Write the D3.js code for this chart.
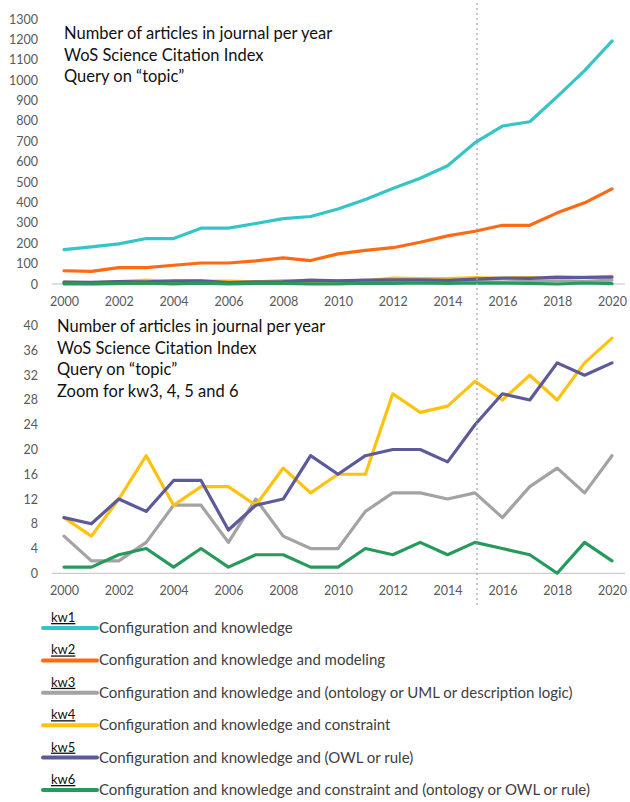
<!DOCTYPE html>
<html>
<head>
<meta charset="utf-8">
<script src="https://cdn.jsdelivr.net/npm/d3@7"></script>
<style>
  body { margin: 0; background: #fff; }
  svg { display: block; font-family: Lato, "Open Sans", sans-serif; }
</style>
</head>
<body>
<div id="chart"></div>
<script>
// Años
const years = d3.range(2000, 2021)

// Series (lectura aproximada del gráfico)
const kw1 = [169, 182, 197, 223, 223, 274, 274, 297, 321, 331, 368, 415, 468, 519, 580, 693, 775, 796, 919, 1047, 1192]
const kw2 = [65, 62, 80, 80, 92, 103, 103, 113, 128, 115, 148, 165, 178, 205, 236, 259, 288, 288, 349, 398, 467]
const kw3 = [6, 2, 2, 5, 11, 11, 5, 12, 6, 4, 4, 10, 13, 13, 12, 13, 9, 14, 17, 13, 19]
const kw4 = [9, 6, 12, 19, 11, 14, 14, 11, 17, 13, 16, 16, 29, 26, 27, 31, 28, 32, 28, 34, 38]
const kw5 = [9, 8, 12, 10, 15, 15, 7, 11, 12, 19, 16, 19, 20, 20, 18, 24, 29, 28, 34, 32, 34]
const kw6 = [1, 1, 3, 4, 1, 4, 1, 3, 3, 1, 1, 4, 3, 5, 3, 5, 4, 3, 0, 5, 2]

const seriesNames = ["kw1", "kw2", "kw3", "kw4", "kw5", "kw6"]
const seriesLabels = [
  "Configuration and knowledge",
  "Configuration and knowledge and modeling",
  "Configuration and knowledge and (ontology or UML or description logic)",
  "Configuration and knowledge and constraint",
  "Configuration and knowledge and (OWL or rule)",
  "Configuration and knowledge and constraint and (ontology or OWL or rule)"
]
const seriesColors = ["#35c5c6", "#ff6a13", "#a3a3a3", "#ffc20e", "#5c5a98", "#279a5b"]
const seriesValues = [kw1, kw2, kw3, kw4, kw5, kw6]

const topTicks = d3.range(0, 1301, 100)
const bottomTicks = d3.range(0, 41, 4)
const xTicks = d3.range(2000, 2021, 2)
const markerYear = 2015

const topTitle = ["Number of articles in journal per year", "WoS Science Citation Index", "Query on \u201ctopic\u201d"]
const bottomTitle = ["Number of articles in journal per year", "WoS Science Citation Index", "Query on \u201ctopic\u201d", "Zoom for kw3, 4, 5 and 6"]

const width = 630, height = 802

const svg = d3.select("#chart").append("svg")
  .attr("width", width)
  .attr("height", height)

const x = d3.scaleLinear().domain([2000, 2020]).range([64, 612])

const series = seriesNames.map((name, i) => ({
  name, label: seriesLabels[i], color: seriesColors[i],
  values: years.map((yr, j) => ({ year: yr, v: seriesValues[i][j] }))
}))

function panel(y, ticks, titleLines, titleX, titleY, list) {
  const g = svg.append("g")

  // Eje Y (solo etiquetas)
  const yAxis = d3.axisLeft(y).tickValues(ticks).tickFormat(d3.format("d")).tickSize(0).tickPadding(0)
  g.append("g")
    .attr("transform", "translate(38,0)")
    .call(yAxis)
    .call(s => s.select(".domain").remove())
    .call(s => s.selectAll("text")
      .attr("fill", "#595959")
      .attr("font-size", 12.5)
      .attr("font-family", "Lato, sans-serif"))

  // Línea base
  g.append("line")
    .attr("x1", 52).attr("x2", 625)
    .attr("y1", y(0)).attr("y2", y(0))
    .attr("stroke", "#bfbfbf").attr("stroke-width", 1)

  // Eje X (solo etiquetas)
  const xAxis = d3.axisBottom(x).tickValues(xTicks).tickFormat(d3.format("d")).tickSize(0).tickPadding(0)
  g.append("g")
    .attr("transform", `translate(0,${y(0) + 13})`)
    .call(xAxis)
    .call(s => s.select(".domain").remove())
    .call(s => s.selectAll("text")
      .attr("fill", "#595959")
      .attr("font-size", 12.5)
      .attr("font-family", "Lato, sans-serif"))

  // Título
  g.append("text")
    .attr("x", titleX).attr("y", titleY)
    .attr("font-size", 16.5)
    .attr("fill", "#111")
    .selectAll("tspan")
    .data(titleLines)
    .join("tspan")
    .attr("x", titleX)
    .attr("dy", (d, i) => i === 0 ? 0 : 21.5)
    .text(d => d)

  // Líneas
  const line = d3.line().x(d => x(d.year)).y(d => y(d.v))
  g.append("g")
    .selectAll("path")
    .data(list)
    .join("path")
    .attr("d", d => line(d.values))
    .attr("fill", "none")
    .attr("stroke", d => d.color)
    .attr("stroke-width", 3.2)
    .attr("stroke-linejoin", "round")
    .attr("stroke-linecap", "round")
}

const yTop = d3.scaleLinear().domain([0, 1300]).range([284, 19])
const yBottom = d3.scaleLinear().domain([0, 40]).range([573.3, 325.7])

panel(yTop, topTicks, topTitle, 64, 39, series)
panel(yBottom, bottomTicks, bottomTitle, 57, 332, series.slice(2))

// Línea vertical punteada en 2015
svg.append("line")
  .attr("x1", x(markerYear) + 2).attr("x2", x(markerYear) + 2)
  .attr("y1", 3).attr("y2", 606)
  .attr("stroke", "#a6a6a6")
  .attr("stroke-width", 1.2)
  .attr("stroke-dasharray", "2,3")

// Leyenda
const legend = svg.append("g")
const rowY = d3.scaleLinear().domain([0, 5]).range([628, 790])

const item = legend.selectAll("g")
  .data(series)
  .join("g")
  .attr("transform", (d, i) => `translate(0,${rowY(i)})`)

item.append("line")
  .attr("x1", 43).attr("x2", 97)
  .attr("y1", 0).attr("y2", 0)
  .attr("stroke", d => d.color)
  .attr("stroke-width", 4)
  .attr("stroke-linecap", "round")

item.append("text")
  .attr("x", 51).attr("y", -6)
  .attr("font-size", 13)
  .attr("fill", "#111")
  .attr("text-decoration", "underline")
  .text(d => d.name)

item.append("text")
  .attr("x", 99).attr("y", 5)
  .attr("font-size", 15)
  .attr("fill", "#404040")
  .text(d => d.label)
</script>
</body>
</html>
